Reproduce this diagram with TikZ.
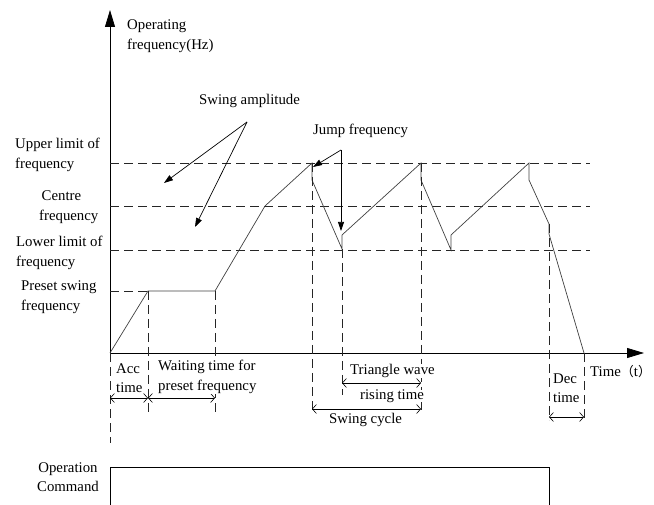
\documentclass[tikz,border=0pt]{standalone}
\usepackage{fontspec}
\setmainfont{Liberation Serif}
\newfontfamily\cjkfont{Noto Sans CJK SC}
\usetikzlibrary{arrows.meta}
\begin{document}
\begin{tikzpicture}[x=1pt,y=-1pt,
  lbl/.style={font=\fontsize{14.8}{19.5}\selectfont,inner sep=0pt,align=left,anchor=west,fill=white},
  guide/.style={dash pattern=on 9pt off 5pt,line width=0.7pt,draw=black!85},
  axis/.style={line width=0.8pt,-{Triangle[length=17pt,width=10pt]}},
  curve/.style={line width=0.7pt,draw=black!75},
  pointer/.style={line width=0.7pt,-{Triangle[length=9pt,width=6pt]}},
  dim/.style={line width=0.6pt,{Straight Barb[length=4pt,width=9pt]}-{Straight Barb[length=4pt,width=9pt]}}]
\useasboundingbox (0,0) rectangle (654,505);
% axes
\coordinate (O) at (110,353);
\coordinate (ytop) at (110,10);
\coordinate (xend) at (644,353);
\coordinate (ybot) at (110,443);
\draw[axis] (O) -- (ytop);
\draw[axis] (O) -- (xend);
\draw[guide] (O) -- (ybot);
% horizontal guides
\coordinate (uL) at (110,163); \coordinate (uR) at (590,163);
\coordinate (cL) at (110,206); \coordinate (cR) at (590,206);
\coordinate (lL) at (110,250); \coordinate (lR) at (590,250);
\coordinate (pL) at (110,291);
\draw[guide] (uL) -- (uR);
\draw[guide] (cL) -- (cR);
\draw[guide] (lL) -- (lR);
% curve points
\coordinate (p1) at (148,291);
\coordinate (p2) at (215,291);
\coordinate (p3) at (265,206);
\coordinate (p4) at (312,163);
\coordinate (p5) at (312,180);
\coordinate (p6) at (342,249);
\coordinate (p7) at (342,235);
\coordinate (p8) at (421,163);
\coordinate (p9) at (421,180);
\coordinate (p10) at (451,250);
\coordinate (p11) at (451,235);
\coordinate (p12) at (529,163);
\coordinate (p13) at (529,180);
\coordinate (p14) at (549,224);
\coordinate (p15) at (549,234);
\coordinate (p16) at (584,353);
\draw[guide] (pL) -- (p1);
\draw[curve] (O) -- (p1) -- (p2) -- (p3) -- (p4) -- (p5) -- (p6) -- (p7) -- (p8) -- (p9) -- (p10) -- (p11) -- (p12) -- (p13) -- (p14) -- (p15) -- (p16);
% vertical guides
\coordinate (v1) at (148,413);
\coordinate (v2) at (215,413);
\coordinate (v3) at (312,413);
\coordinate (v4) at (342,395);
\coordinate (v5) at (421,413);
\coordinate (v6) at (549,420);
\coordinate (v7) at (584,420);
\draw[guide] (p1) -- (v1);
\draw[guide] (p2) -- (v2);
\draw[guide] (p4) -- (v3);
\draw[guide] (p6) -- (v4);
\draw[guide] (p8) -- (v5);
\draw[guide] (p14) -- (v6);
\draw[guide] (p16) -- (v7);
% dimension arrows
\coordinate (a1) at (110,398); \coordinate (a2) at (148,398); \coordinate (a3) at (215,398);
\draw[dim] (a1) -- (a2);
\draw[dim] (a2) -- (a3);
\coordinate (t1) at (342,383); \coordinate (t2) at (421,383);
\draw[dim] (t1) -- (t2);
\coordinate (s1) at (312,409); \coordinate (s2) at (421,409);
\draw[dim] (s1) -- (s2);
\coordinate (d1) at (549,417); \coordinate (d2) at (584,417);
\draw[dim] (d1) -- (d2);
% pointers
\coordinate (sa) at (247,122);
\coordinate (sa1) at (164,183);
\coordinate (sa2) at (195,227);
\draw[pointer] (sa) -- (sa1);
\draw[pointer] (sa) -- (sa2);
\coordinate (jf) at (341,150);
\coordinate (jf1) at (313,167);
\coordinate (jf2) at (341,231);
\draw[pointer] (jf) -- (jf1);
\draw[pointer] (jf) -- (jf2);
% command box
\coordinate (c1) at (110,506);
\coordinate (c2) at (110,467);
\coordinate (c3) at (549,467);
\coordinate (c4) at (549,506);
\draw[line width=0.8pt] (c1) -- (c2) -- (c3) -- (c4);
% labels
\node[lbl] (ylab) at (127,36) {Operating\\frequency(Hz)};
\node[lbl] (swa) at (199,101) {Swing amplitude};
\node[lbl] (jfl) at (313,131) {Jump frequency};
\node[lbl] (ul) at (15,155) {Upper limit of\\frequency};
\node[lbl] (cf) at (39,207) {\,Centre\\frequency};
\node[lbl] (ll) at (16,253) {Lower limit of\\frequency};
\node[lbl] (ps) at (21,297) {Preset swing\\frequency};
\node[lbl] (acc) at (116,378) {Acc\\time};
\node[lbl] (wt) at (158,377) {Waiting time for\\preset frequency};
\node[lbl] (tw) at (350,371) {Triangle wave};
\node[lbl] (rt) at (360,396) {rising time};
\node[lbl] (sc) at (329,420) {Swing cycle};
\node[lbl] (dec) at (553,388) {Dec\\time};
\node[lbl] (tl) at (590,372) {Time{\cjkfont\fontsize{13}{15}\selectfont （}t{\cjkfont\fontsize{13}{15}\selectfont ）}};
\node[lbl,align=center,anchor=center] (oc) at (68,477) {Operation\\Command};
\end{tikzpicture}
\end{document}
